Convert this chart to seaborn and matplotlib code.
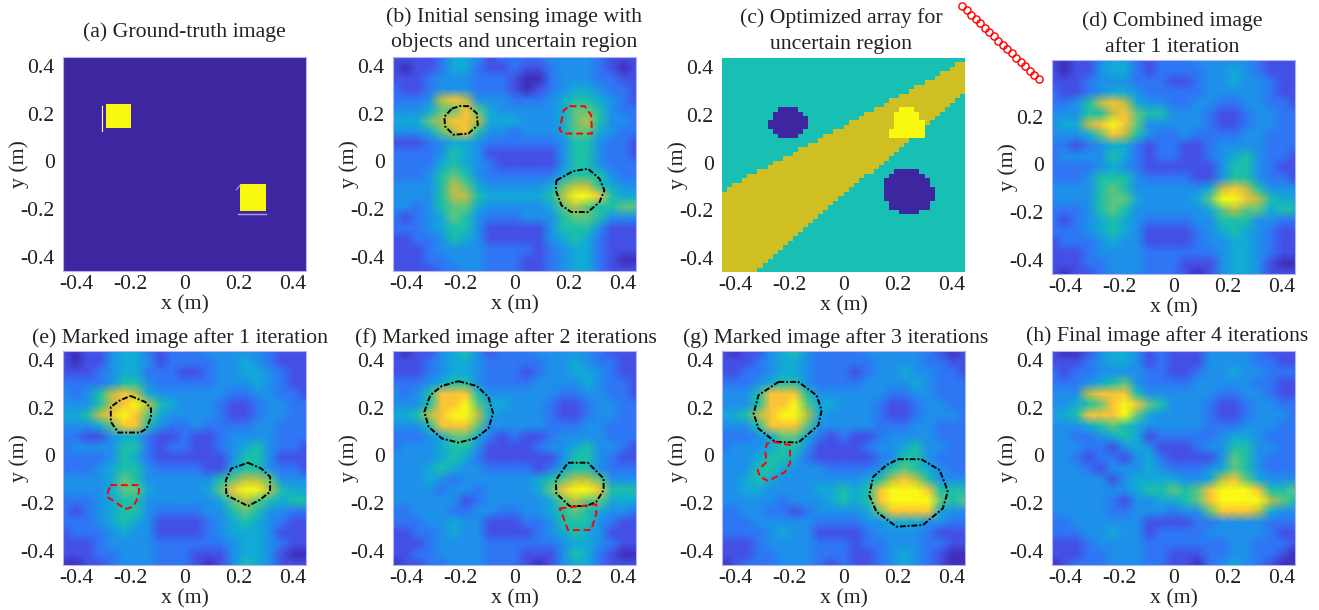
import numpy as np
import matplotlib
matplotlib.use('Agg')
import matplotlib.pyplot as plt
from matplotlib.colors import LinearSegmentedColormap, ListedColormap
import seaborn as sns

W, H = 1319, 610

# image grids (row 0 is y=+0.45, column 0 is x=-0.45), 0 dark .. 9 yellow
img_b = [
    [1,1,1,1,2,4,4,3,1,2,2,2,2,3,3,3,3,2,1,1,1],
    [1,0,1,1,2,4,4,2,1,1,2,1,1,2,3,3,3,2,1,0,1],
    [1,1,1,2,3,3,3,2,2,2,1,0,0,2,3,3,3,2,2,1,1],
    [2,1,1,2,3,3,3,2,2,2,1,0,1,2,3,4,4,3,2,2,1],
    [2,2,2,3,7,8,7,3,3,3,2,2,2,3,4,5,5,4,3,2,1],
    [3,3,3,4,6,6,8,6,4,3,3,3,3,3,4,6,6,5,3,2,2],
    [4,4,4,6,7,8,8,7,4,4,4,3,3,3,4,6,7,5,3,3,2],
    [3,3,3,4,6,7,8,5,3,3,2,3,3,3,4,6,6,4,3,2,2],
    [1,1,1,2,3,4,4,3,2,2,2,2,2,2,3,5,5,3,2,2,1],
    [2,2,2,2,3,5,4,3,1,1,1,1,1,1,3,5,5,3,2,2,1],
    [2,2,2,2,4,5,4,3,2,1,1,1,1,1,3,5,5,3,2,2,2],
    [2,2,2,3,5,6,5,3,2,2,2,2,2,2,4,5,5,5,3,2,2],
    [3,3,3,3,5,7,6,4,3,3,3,3,3,4,6,7,7,5,4,3,3],
    [3,3,3,3,5,7,7,5,4,4,4,4,4,5,7,9,9,8,5,4,4],
    [3,3,2,3,5,6,6,4,3,3,3,3,3,4,6,7,6,5,5,6,6],
    [2,1,2,3,4,6,5,3,2,2,2,3,3,3,5,6,6,5,3,3,3],
    [2,2,2,3,4,5,5,3,1,1,1,1,1,3,5,5,5,3,1,1,1],
    [1,1,2,2,3,5,4,3,1,1,1,1,1,3,4,5,4,2,1,1,1],
    [1,1,1,2,3,3,3,3,2,2,2,2,1,2,3,4,4,2,1,1,1],
    [1,1,1,2,2,3,3,3,2,2,2,1,1,2,3,4,4,2,1,0,0],
    [1,1,1,1,2,2,3,3,2,2,2,1,1,2,3,4,4,2,1,1,1],
]
img_d = [
    [1,0,1,1,3,4,4,2,1,2,2,2,3,3,3,3,3,2,1,1,1],
    [1,0,1,1,3,4,4,2,1,2,2,2,2,3,3,4,3,2,1,1,1],
    [1,1,1,2,3,3,3,2,2,2,1,1,2,3,3,4,3,3,2,1,1],
    [2,1,1,2,3,4,4,3,2,2,2,2,2,3,3,3,3,3,2,1,1],
    [2,2,3,5,7,8,7,4,3,3,2,2,3,3,2,2,3,3,2,2,1],
    [3,3,3,5,5,7,8,6,5,5,3,3,3,2,1,1,2,3,3,2,2],
    [3,4,4,7,8,9,8,6,3,3,3,3,3,2,1,1,2,3,3,2,2],
    [3,3,3,4,6,8,7,5,3,2,2,3,2,2,2,2,3,3,2,2,2],
    [2,2,1,2,3,4,4,2,1,2,2,1,1,2,3,3,3,3,2,2,2],
    [2,3,3,3,3,5,4,2,1,2,2,1,1,2,3,4,5,3,2,2,1],
    [2,2,2,2,3,4,3,2,1,1,1,1,1,1,3,5,5,3,2,1,1],
    [2,2,2,3,5,5,5,3,2,2,2,2,1,1,3,5,5,3,2,2,1],
    [3,3,3,3,5,6,5,3,3,3,3,3,3,4,7,8,7,5,3,3,3],
    [3,3,3,3,5,6,6,4,3,3,3,3,4,6,9,9,8,7,5,4,4],
    [2,2,2,3,5,6,5,3,3,3,3,3,3,4,6,7,6,6,4,5,5],
    [2,1,2,3,4,5,4,3,2,2,2,2,3,3,5,5,5,3,3,2,2],
    [2,2,2,3,4,5,4,3,1,1,1,1,2,3,4,5,4,3,2,1,1],
    [1,2,2,2,3,4,3,3,1,1,1,1,2,3,3,4,4,3,2,1,1],
    [1,1,1,2,3,3,3,3,2,2,2,2,2,2,3,4,4,3,2,1,1],
    [1,1,1,2,2,3,3,3,2,2,2,1,1,1,3,4,4,3,1,0,0],
    [1,0,1,1,2,3,3,3,2,2,2,1,0,1,3,4,4,3,1,1,1],
]
img_e = [
    [1,0,1,1,3,4,4,2,1,2,2,2,3,3,3,3,3,2,1,1,1],
    [1,0,1,1,3,4,4,3,1,2,2,2,2,3,3,4,3,2,1,1,1],
    [1,1,1,2,3,4,4,2,2,2,1,1,2,3,3,4,4,3,2,1,1],
    [2,2,2,2,3,5,5,3,2,2,2,2,2,3,3,3,4,3,2,1,1],
    [3,2,3,5,7,8,7,4,3,3,3,3,3,3,2,2,3,3,2,2,1],
    [3,3,3,5,7,8,9,7,5,4,3,3,3,2,1,1,2,3,3,2,2],
    [4,4,5,7,8,9,8,6,4,3,3,3,3,2,1,1,2,3,3,2,2],
    [3,3,3,4,6,8,8,5,3,2,2,3,2,2,2,2,3,3,2,2,2],
    [2,2,1,1,3,4,4,2,1,1,2,1,1,2,3,3,3,3,2,2,2],
    [2,3,3,3,3,5,5,2,1,2,2,1,1,2,3,4,5,3,2,2,1],
    [2,2,2,2,3,5,4,2,1,1,1,1,1,1,3,5,5,3,1,1,1],
    [2,2,2,3,4,5,5,3,2,2,2,2,1,1,4,5,5,3,2,2,1],
    [3,3,3,3,4,6,5,3,3,3,3,3,3,5,6,7,7,6,3,3,3],
    [3,3,3,3,4,6,6,4,3,3,3,3,4,6,8,9,9,7,5,4,4],
    [2,2,2,3,4,5,5,3,3,3,3,3,3,4,6,7,6,5,4,5,5],
    [2,1,2,3,4,5,5,3,2,2,2,2,3,3,5,6,5,3,3,2,2],
    [2,2,2,3,4,5,4,3,1,1,1,1,2,3,4,5,4,3,2,1,1],
    [1,2,2,2,3,4,3,3,1,1,1,1,2,3,4,4,4,3,1,1,1],
    [1,1,1,2,3,3,3,3,2,2,2,2,2,2,3,4,4,3,2,1,1],
    [1,1,1,2,2,3,3,3,2,2,2,1,1,1,3,4,4,3,1,0,0],
    [0,0,1,1,2,3,3,3,2,2,2,1,0,1,3,5,4,3,1,1,1],
]
img_f = [
    [1,0,1,1,3,4,5,3,1,2,2,2,3,3,3,3,3,2,1,1,1],
    [1,1,1,2,3,4,4,3,2,2,2,2,2,3,3,4,3,2,2,1,1],
    [1,1,1,2,3,4,4,3,2,2,2,1,2,3,3,4,4,3,2,1,1],
    [2,2,2,3,4,5,5,3,2,2,2,2,3,3,3,3,4,3,2,2,1],
    [3,2,3,5,8,8,8,5,3,3,3,3,3,3,2,2,3,3,2,2,1],
    [3,3,3,5,8,8,9,6,4,4,3,3,3,2,1,1,2,3,3,2,2],
    [4,4,5,7,8,9,9,7,4,3,3,3,3,2,1,1,2,3,3,2,2],
    [3,3,3,5,8,8,8,6,3,3,3,3,3,2,2,2,3,3,2,2,2],
    [2,2,2,3,4,6,6,4,2,1,2,1,1,2,3,3,3,3,2,2,2],
    [2,3,3,3,4,5,5,3,1,1,1,1,2,3,3,4,5,3,3,2,1],
    [3,3,3,3,4,5,4,2,1,1,1,1,1,1,3,5,5,3,2,1,1],
    [3,3,3,4,5,4,3,3,2,2,2,2,1,2,4,5,5,3,2,2,2],
    [3,3,3,4,3,2,3,3,3,3,3,3,4,5,6,7,7,6,3,3,3],
    [3,3,3,3,2,3,3,2,3,3,3,3,4,6,8,9,9,8,5,5,5],
    [3,3,3,3,3,3,1,2,3,3,3,3,3,4,6,7,6,6,4,4,4],
    [2,2,3,3,3,2,2,3,3,2,2,3,3,4,5,6,5,4,3,3,2],
    [2,2,2,3,3,4,3,3,1,1,1,2,2,3,5,5,5,3,2,1,1],
    [1,1,2,2,3,4,3,3,1,1,1,1,2,3,4,5,4,3,1,1,1],
    [1,1,1,2,3,3,3,3,2,2,2,2,2,2,3,4,4,3,2,1,1],
    [1,1,2,2,3,3,3,3,2,2,2,1,1,1,3,5,4,2,1,0,0],
    [0,1,1,2,2,3,3,3,2,2,2,1,0,1,3,4,4,2,1,1,1],
]
img_g = [
    [1,0,1,1,3,4,5,3,2,2,2,2,3,3,3,3,3,2,1,0,1],
    [1,1,1,2,3,4,4,3,2,2,2,2,2,3,3,3,3,2,2,1,1],
    [1,1,2,2,3,4,4,3,2,2,2,1,2,3,3,4,3,3,2,2,1],
    [2,2,2,3,4,5,5,3,2,2,2,2,3,3,3,3,4,3,2,2,2],
    [3,3,3,5,8,8,8,5,3,3,3,3,3,3,2,2,3,3,2,2,2],
    [3,3,3,5,8,8,9,6,4,4,3,3,3,2,1,1,2,3,3,2,2],
    [4,4,5,7,8,9,9,7,4,3,3,3,3,2,1,1,2,3,3,3,2],
    [3,3,3,5,8,8,8,6,3,3,3,3,3,2,2,2,3,3,2,2,2],
    [2,2,2,3,4,6,6,4,2,1,2,1,1,2,3,3,3,3,2,2,2],
    [2,3,3,3,4,5,5,3,1,1,1,1,2,3,3,4,5,3,3,2,2],
    [3,3,3,4,5,5,4,2,1,1,1,1,1,2,3,5,5,3,2,2,2],
    [3,3,3,5,5,4,3,3,3,2,2,2,2,3,5,6,5,4,3,2,2],
    [3,3,4,5,4,3,3,3,3,3,3,3,4,5,7,8,7,5,3,3,3],
    [3,3,4,4,3,3,3,3,4,4,5,4,5,8,9,9,9,8,5,5,5],
    [3,3,3,3,3,2,3,3,3,4,5,4,5,8,9,9,9,9,6,5,6],
    [2,2,3,3,2,2,1,2,3,3,3,3,4,6,8,8,8,8,4,3,3],
    [2,2,2,3,3,3,3,3,2,2,2,2,3,3,4,4,4,3,3,2,2],
    [2,2,2,2,3,4,3,3,1,1,1,1,2,3,3,3,3,2,1,1,1],
    [1,1,1,2,3,3,3,3,2,2,2,1,2,2,3,3,3,2,2,1,1],
    [1,1,1,2,2,3,3,3,2,2,2,1,1,2,3,4,3,2,1,0,0],
    [0,1,2,2,2,3,3,3,2,1,2,1,1,2,3,4,3,2,1,0,0],
]
img_h = [
    [1,0,0,1,3,4,4,3,1,2,1,1,1,3,3,3,3,2,1,1,1],
    [1,1,1,2,3,4,4,3,1,2,1,1,1,3,3,3,3,2,2,1,1],
    [2,1,2,2,3,3,3,3,2,2,1,1,2,3,3,4,3,3,2,2,2],
    [2,2,2,3,4,5,6,3,2,2,2,2,3,3,3,3,3,2,2,1,1],
    [3,3,3,7,8,8,8,5,3,3,3,3,3,3,2,2,3,3,2,1,1],
    [3,3,4,5,6,8,9,8,6,5,3,3,3,2,1,1,2,3,3,2,2],
    [4,4,5,8,8,8,9,6,4,3,3,3,3,2,1,1,2,3,3,3,2],
    [3,3,3,4,5,6,5,4,3,3,3,3,3,2,2,2,3,3,3,2,2],
    [3,3,2,2,3,4,5,4,1,2,2,2,2,2,3,4,4,3,2,2,2],
    [3,3,3,2,2,1,3,4,3,1,1,1,2,3,3,5,5,3,3,2,2],
    [3,3,2,1,2,2,1,3,4,2,1,1,1,1,3,6,5,3,2,2,2],
    [3,3,3,2,1,3,3,3,4,3,2,2,2,3,4,6,5,3,2,2,2],
    [3,3,3,3,3,1,3,4,4,4,4,3,3,4,7,8,6,4,3,3,3],
    [3,3,3,3,3,3,3,4,5,5,6,5,6,8,9,9,9,8,5,5,6],
    [3,3,3,3,3,2,1,3,3,4,4,5,6,8,9,9,9,9,7,6,5],
    [3,3,3,3,3,2,2,3,3,3,2,3,3,6,8,8,8,7,4,3,3],
    [2,2,3,3,3,3,3,3,1,1,1,1,2,2,3,3,3,3,2,2,2],
    [2,2,2,3,3,4,3,3,1,2,2,2,2,3,3,3,3,3,2,1,1],
    [1,1,1,2,3,3,3,3,2,2,2,2,2,2,2,3,3,2,2,2,1],
    [1,1,1,2,2,3,3,3,2,2,1,1,1,2,2,3,3,2,2,1,0],
    [0,1,2,2,2,3,3,3,2,2,1,1,0,2,3,4,3,2,1,0,0],
]

# panel (a): squares as (row from, row to, col from, col to) on a 96x96 grid
gt_size = 96
gt_squares = [(21, 32, 17, 27), (57, 69, 70, 80)]

# panel (c): spans per row on a 48x48 grid, {row: (col from, col to)}
c_size = 48
wedge_from = [48,46,45,43,42,40,38,37,35,33,32,30,28,27,25,24,22,20,19,17,15,14,12,10,
              9,7,5,4,2,1,0,0,0,0,0,0,0,0,0,0,0,0,0,0,0,0,0,0]
wedge_to = [48,48,48,48,48,48,48,48,47,46,45,44,43,42,41,40,39,38,37,36,35,34,33,32,
            31,30,28,27,26,25,24,23,22,21,20,19,18,17,16,15,14,13,12,11,10,9,8,7]
blue_left = {11:(11,15), 12:(10,16), 13:(10,17), 14:(9,17), 15:(9,17), 16:(10,16), 17:(11,15)}
blue_right = {25:(34,39), 26:(33,40), 27:(32,41), 28:(32,41), 29:(32,42), 30:(32,42),
              31:(32,42), 32:(33,41), 33:(33,41), 34:(35,39)}
blob = {11:(35,38), 12:(34,39), 13:(34,39), 14:(34,40), 15:(34,40), 16:(33,40), 17:(33,40)}

# contours (metres)
b_black1 = [(-.232,.233),(-.202,.244),(-.171,.243),(-.14,.214),(-.136,.163),(-.171,.128),(-.226,.123),(-.257,.158),(-.26,.198)]
b_red = [(.204,.243),(.26,.243),(.284,.205),(.287,.128),(.18,.128),(.167,.144),(.182,.226)]
b_black2 = [(.155,-.069),(.217,-.03),(.272,-.02),(.315,-.062),(.333,-.111),(.315,-.16),(.272,-.202),(.21,-.202),(.174,-.174),(.153,-.111)]
e_black1 = [(-.2,.261),(-.146,.236),(-.124,.208),(-.124,.173),(-.14,.124),(-.165,.107),(-.245,.107),(-.273,.152),(-.273,.215),(-.238,.243)]
e_black2 = [(.235,-.02),(.284,-.044),(.317,-.079),(.317,-.142),(.278,-.177),(.235,-.202),(.204,-.184),(.155,-.156),(.153,-.093),(.174,-.044)]
e_red = [(-.275,-.114),(-.167,-.114),(-.171,-.163),(-.19,-.205),(-.22,-.215),(-.257,-.184),(-.288,-.163)]
f_black1 = [(-.208,.323),(-.14,.303),(-.097,.257),(-.079,.187),(-.097,.124),(-.146,.082),(-.208,.065),(-.269,.082),(-.318,.131),(-.334,.194),(-.312,.264),(-.269,.303)]
f_black2 = [(.198,-.02),(.272,-.02),(.33,-.086),(.33,-.135),(.303,-.184),(.266,-.202),(.204,-.202),(.155,-.149),(.153,-.093)]
f_red = [(.167,-.212),(.303,-.195),(.303,-.233),(.284,-.303),(.198,-.303),(.18,-.247)]
g_black1 = [(-.241,.32),(-.167,.32),(-.1,.264),(-.081,.201),(-.093,.138),(-.167,.065),(-.253,.068),(-.315,.124),(-.333,.187),(-.315,.264)]
g_black2 = [(.202,-.005),(.288,-.005),(.356,-.051),(.378,-.114),(.386,-.142),(.368,-.212),(.294,-.282),(.196,-.289),(.122,-.226),(.095,-.156),(.11,-.079),(.159,-.03)]
g_red = [(-.259,.068),(-.198,.054),(-.198,-.023),(-.216,-.058),(-.278,-.097),(-.309,-.079),(-.318,-.051),(-.284,-.016),(-.29,.026),(-.284,.061)]

# antenna elements above panel (d), figure pixels
array_x = [962,966.5,971,975.5,980,984.5,989,993.5,998,1003,1007,1012,1016,1021,1025,1030,1034,1039]
array_y = [6,10,15,19,23,28,32,36,41,45,49,53,58,62,66,71,75,79]

ticks = [-0.4, -0.2, 0, 0.2, 0.4]
tick_labels = ['-0.4', '-0.2', '0', '0.2', '0.4']

plt.rcParams['font.family'] = ['Liberation Serif', 'DejaVu Serif']
parula = LinearSegmentedColormap.from_list('parula', [
    '#3D2FBA', '#4450E6', '#2E77F5', '#1E90EA', '#12AAD6',
    '#1BBFA8', '#5FC57E', '#BBBE45', '#FAC238', '#F9F915'])
EDGE = '#B4B4F0'
FS = 15.7
INK = '#222222'


def make_axes(fig, left, top, right, bottom):
    return fig.add_axes([left / W, 1 - bottom / H, (right - left) / W, (bottom - top) / H])


def finish(ax, last, yticks=ticks, ylabels=tick_labels):
    # last = last grid coordinate of the axis
    to_col = lambda v: (v + 0.45) / 0.9 * last
    to_row = lambda v: (0.45 - v) / 0.9 * last
    ax.set_xlim(0, last)
    ax.set_ylim(last, 0)
    ax.set_xticks([to_col(t) for t in ticks])
    ax.set_xticklabels(tick_labels, rotation=0)
    ax.set_yticks([to_row(t) for t in yticks])
    ax.set_yticklabels(ylabels, rotation=0)
    ax.tick_params(length=0, labelsize=FS, colors=INK)
    ax.tick_params(axis='x', pad=3)
    ax.tick_params(axis='y', pad=6)
    ax.set_xlabel('x (m)', fontsize=FS, color=INK, va='center')
    ax.set_ylabel('y (m)', fontsize=FS, color=INK, va='center')
    ax.xaxis.set_label_coords(0.5, -34 / 214)
    ax.yaxis.set_label_coords(-44 / 243, 0.5)
    for s in ax.spines.values():
        s.set_visible(True)
        s.set_color(EDGE)
        s.set_linewidth(0.8)


def contour(ax, pts, last, color, ls):
    xs = [(p[0] + 0.45) / 0.9 * last for p in pts + pts[:1]]
    ys = [(0.45 - p[1]) / 0.9 * last for p in pts + pts[:1]]
    ax.plot(xs, ys, color=color, ls=ls, lw=1.4)


def image_panel(fig, box, grid, black=(), red=(), **kw):
    ax = make_axes(fig, *box)
    sns.heatmap(np.array(grid), cmap=parula, vmin=0, vmax=9, cbar=False, ax=ax,
                shading='gouraud')
    finish(ax, len(grid) - 1, **kw)
    for c in black:
        contour(ax, c, len(grid) - 1, 'black', (0, (3, 1, 1, 1)))
    for c in red:
        contour(ax, c, len(grid) - 1, 'red', (0, (3.5, 2)))
    return ax


fig = plt.figure(figsize=(W / 100, H / 100), dpi=100)

# (a) ground truth
gt = np.zeros((gt_size, gt_size))
for r0, r1, c0, c1 in gt_squares:
    gt[r0:r1, c0:c1] = 1
ax = make_axes(fig, 63, 57, 306, 271)
sns.heatmap(gt, cmap=ListedColormap(['#3D26A0', '#F9F90F']), cbar=False, ax=ax)
finish(ax, gt_size)
ax.plot([15.6, 15.6], [22, 33], color='white', lw=0.8)
ax.plot([69, 80], [70.5, 70.5], color='#A9A0DC', lw=1)
ax.plot([68.5, 70], [59.5, 57.5], color='#A9A0DC', lw=0.8)

# (c) optimized array
arr = np.full((c_size, c_size), 1)
for r in range(c_size):
    arr[r, wedge_from[r]:wedge_to[r]] = 2
for spans, val in ((blue_left, 0), (blue_right, 0), (blob, 3)):
    for r, (c0, c1) in spans.items():
        arr[r, c0:c1] = val
ax = make_axes(fig, 722, 58, 965, 272)
sns.heatmap(arr, cmap=ListedColormap(['#3D26A0', '#17C0B3', '#CFBF22', '#F9F90F']),
            vmin=0, vmax=3, cbar=False, ax=ax)
finish(ax, c_size)
for s in ax.spines.values():
    s.set_visible(False)

image_panel(fig, (393, 57, 636, 271), img_b, [b_black1, b_black2], [b_red])
image_panel(fig, (1052, 60, 1295, 274), img_d, yticks=ticks[:-1], ylabels=tick_labels[:-1])
image_panel(fig, (63, 351, 306, 565), img_e, [e_black1, e_black2], [e_red])
image_panel(fig, (393, 351, 636, 565), img_f, [f_black1, f_black2], [f_red])
image_panel(fig, (722, 351, 965, 565), img_g, [g_black1, g_black2], [g_red])
image_panel(fig, (1052, 351, 1295, 565), img_h)

titles = [
    ('(a) Ground-truth image', 184, 32),
    ('(b) Initial sensing image with', 514.5, 17),
    ('objects and uncertain region', 514.5, 43),
    ('(c) Optimized array for', 841, 18),
    ('uncertain region', 841, 44),
    ('(d) Combined image', 1172, 21),
    ('after 1 iteration', 1172, 47),
    ('(e) Marked image after 1 iteration', 179.5, 338),
    ('(f) Marked image after 2 iterations', 506, 338),
    ('(g) Marked image after 3 iterations', 836, 338),
    ('(h) Final image after 4 iterations', 1167.6, 336),
]
for txt, x, y in titles:
    fig.text(x / W, 1 - y / H, txt, ha='center', va='center', fontsize=FS, color=INK)

# antenna array, drawn on a full-figure overlay in pixel coordinates
over = fig.add_axes([0, 0, 1, 1])
over.set_xlim(0, W)
over.set_ylim(H, 0)
over.axis('off')
over.patch.set_alpha(0)
over.plot(array_x, array_y, ls='none', marker='o', ms=5.2, mfc='none', mec='red', mew=1)

fig.savefig('out.png', dpi=100)
